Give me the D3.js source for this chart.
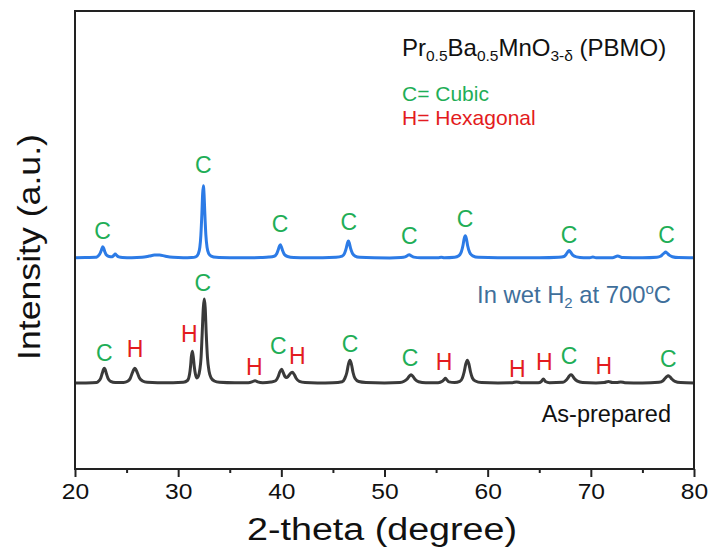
<!DOCTYPE html>
<html>
<head>
<meta charset="utf-8">
<script src="https://cdn.jsdelivr.net/npm/d3@7"></script>
<style>
  html, body { margin: 0; padding: 0; background: #fff; }
  svg text { font-family: "Liberation Sans", Arial, Helvetica, sans-serif; }
</style>
</head>
<body>
<svg id="chart" width="711" height="552"></svg>
<script>
// ---------- DATA ----------
const xTicks = [20, 30, 40, 50, 60, 70, 80];
const xMinorTicks = [25, 35, 45, 55, 65, 75];

// Pattern after treatment in wet H2 at 700 °C: [2theta, intensity (a.u.)]
const wetH2 = [
  [20, 5], [21, 8], [22, 10], [22.1, 12], [22.35, 35], [22.5, 65], [22.6, 95], [22.7, 115], [22.8, 95],
  [22.9, 62], [23.05, 32], [23.3, 18], [23.6, 15], [23.75, 28], [23.9, 42], [24.05, 28], [24.25, 14],
  [24.6, 8], [25.5, 6], [26.5, 10], [27.2, 22], [27.7, 32], [28.2, 32], [28.7, 22], [29.5, 10], [30.5, 6],
  [31.3, 8], [31.7, 15], [31.95, 45], [32.1, 110], [32.2, 230], [32.3, 450], [32.37, 640], [32.44, 725],
  [32.51, 640], [32.58, 460], [32.68, 240], [32.8, 110], [32.95, 50], [33.2, 22], [33.7, 10], [35, 6],
  [36.5, 5], [38, 8], [38.8, 12], [39.3, 20], [39.55, 45], [39.7, 85], [39.8, 118], [39.9, 135],
  [40.0, 115], [40.12, 78], [40.3, 38], [40.6, 18], [41.2, 8], [42.5, 6], [44, 6], [45.3, 10],
  [45.9, 22], [46.15, 55], [46.3, 105], [46.42, 155], [46.5, 172], [46.58, 155], [46.7, 105],
  [46.88, 52], [47.15, 22], [47.6, 10], [49, 5], [50.5, 4], [51.6, 8], [52.0, 14], [52.2, 26],
  [52.4, 36], [52.6, 24], [52.85, 12], [53.5, 5], [55.2, 6], [55.5, 10], [55.8, 5], [56.8, 10],
  [57.2, 25], [57.45, 65], [57.6, 125], [57.72, 195], [57.83, 225], [57.94, 195], [58.06, 125],
  [58.25, 60], [58.55, 25], [59.1, 10], [61, 6], [63, 6], [65, 5], [66.9, 10], [67.4, 18], [67.6, 38],
  [67.75, 62], [67.9, 77], [68.05, 60], [68.25, 32], [68.6, 14], [69.3, 6], [69.9, 6], [70.2, 12],
  [70.5, 6], [72.1, 6], [72.6, 22], [73.1, 7], [75, 5], [76.4, 10], [76.75, 20], [76.95, 38],
  [77.1, 52], [77.25, 62], [77.4, 52], [77.6, 32], [77.9, 16], [78.5, 7], [80, 5]
];

// As-prepared pattern: [2theta, intensity (a.u.)]
const asPrepared = [
  [20, 5], [21, 6], [22.1, 10], [22.3, 25], [22.5, 55], [22.65, 105], [22.76, 140], [22.84, 152],
  [22.92, 140], [23.04, 100], [23.2, 52], [23.45, 22], [23.9, 10], [24.7, 10], [25.1, 22], [25.35, 50],
  [25.55, 105], [25.7, 140], [25.8, 152], [25.9, 140], [26.05, 105], [26.25, 55], [26.55, 25], [27.0, 12],
  [28, 8], [29.5, 8], [30.5, 12], [30.9, 30], [31.1, 90], [31.2, 170], [31.28, 270], [31.37, 322],
  [31.46, 270], [31.56, 170], [31.68, 90], [31.82, 55], [31.95, 70], [32.1, 140], [32.22, 260],
  [32.32, 480], [32.44, 760], [32.53, 845], [32.62, 760], [32.72, 500], [32.84, 260], [33.0, 120],
  [33.2, 55], [33.5, 25], [34, 12], [35.5, 7], [36.8, 8], [37.2, 18], [37.45, 28], [37.7, 16], [38.2, 8],
  [39.0, 15], [39.45, 28], [39.7, 70], [39.85, 115], [40.03, 142], [40.18, 110], [40.35, 70], [40.5, 60],
  [40.65, 70], [40.85, 98], [41.06, 112], [41.25, 90], [41.45, 50], [41.75, 22], [42.3, 10], [43.5, 6],
  [45, 8], [45.9, 18], [46.15, 50], [46.35, 110], [46.5, 190], [46.65, 232], [46.8, 190], [46.95, 110],
  [47.15, 50], [47.5, 20], [48.2, 10], [50, 6], [51.5, 10], [51.9, 22], [52.2, 45], [52.4, 72],
  [52.57, 87], [52.75, 72], [52.95, 42], [53.3, 18], [54, 8], [55.2, 8], [55.6, 22], [55.8, 42],
  [55.9, 52], [56.0, 42], [56.25, 16], [56.8, 10], [57.3, 22], [57.55, 55], [57.72, 115], [57.88, 195],
  [58.03, 232], [58.18, 195], [58.34, 115], [58.52, 55], [58.8, 25], [59.4, 10], [61, 6], [62.4, 8],
  [62.8, 16], [63.2, 8], [64.9, 8], [65.2, 20], [65.4, 45], [65.6, 20], [66, 8], [67.3, 12], [67.6, 32],
  [67.82, 62], [67.95, 80], [68.08, 87], [68.22, 78], [68.4, 50], [68.7, 24], [69.2, 10], [70.5, 6],
  [71.3, 10], [71.7, 20], [72.1, 10], [72.5, 10], [72.9, 16], [73.3, 8], [75, 5], [76.6, 12], [77.0, 28],
  [77.2, 52], [77.35, 68], [77.5, 77], [77.65, 68], [77.85, 45], [78.15, 22], [78.7, 10], [80, 6]
];

// vertical stacking offsets (a.u.)
const offsetAsPrepared = 855;
const offsetWetH2 = 2107;

// phase labels: [2theta, intensity (a.u., relative to the pattern baseline), phase]
const wetH2Labels = [
  [22.68, 196, "C"], [32.44, 853, "C"], [39.87, 260, "C"], [46.53, 283, "C"],
  [52.4, 143, "C"], [57.8, 310, "C"], [67.88, 150, "C"], [77.35, 150, "C"]
];
const asPreparedLabels = [
  [22.84, 228, "C"], [25.82, 268, "H"], [31.08, 412, "H"], [32.38, 925, "C"],
  [37.38, 85, "H"], [39.7, 295, "C"], [41.55, 192, "H"], [46.65, 318, "C"],
  [52.47, 175, "C"], [55.77, 135, "H"], [62.87, 62, "H"], [65.49, 135, "H"],
  [67.88, 195, "C"], [71.27, 95, "H"], [77.51, 168, "C"]
];

// ---------- LAYOUT ----------
const W = 711, H = 552;
const margin = { left: 75, right: 17, top: 11, bottom: 83 };
const plotW = W - margin.left - margin.right;
const plotH = H - margin.top - margin.bottom;

const colBlue = "#2c7be6";
const colBlack = "#3a3a3a";
const colGreen = "#1fae57";
const colRed = "#e31b20";
const colSteel = "#3f6f9b";

const svg = d3.select("#chart");
const g = svg.append("g").attr("transform", `translate(${margin.left},${margin.top})`);

const x = d3.scaleLinear().domain([20, 80]).range([0, plotW]);
const y = d3.scaleLinear().domain([0, 4580]).range([plotH, 0]);

g.append("clipPath").attr("id", "clip")
  .append("rect").attr("x", 0).attr("y", 0).attr("width", plotW).attr("height", plotH);

const line = (off) => d3.line()
  .x(d => x(d[0]))
  .y(d => y(d[1] + off))
  .curve(d3.curveMonotoneX);

g.append("path").datum(asPrepared)
  .attr("clip-path", "url(#clip)")
  .attr("fill", "none").attr("stroke", colBlack).attr("stroke-width", 3)
  .attr("stroke-linejoin", "round")
  .attr("d", line(offsetAsPrepared));

g.append("path").datum(wetH2)
  .attr("clip-path", "url(#clip)")
  .attr("fill", "none").attr("stroke", colBlue).attr("stroke-width", 3)
  .attr("stroke-linejoin", "round")
  .attr("d", line(offsetWetH2));

// phase labels
function drawLabels(labels, off) {
  g.selectAll(null).data(labels).enter().append("text")
    .attr("x", d => x(d[0]))
    .attr("y", d => y(d[1] + off))
    .attr("text-anchor", "middle")
    .attr("font-size", 23)
    .attr("fill", d => d[2] === "C" ? colGreen : colRed)
    .text(d => d[2]);
}
drawLabels(wetH2Labels, offsetWetH2);
drawLabels(asPreparedLabels, offsetAsPrepared);

// frame
g.append("rect").attr("x", 0).attr("y", 0).attr("width", plotW).attr("height", plotH)
  .attr("fill", "none").attr("stroke", "#222").attr("stroke-width", 2);

// x axis
const xAxis = d3.axisBottom(x).tickValues(xTicks).tickSize(8).tickPadding(6).tickFormat(d3.format("d"));
const ax = g.append("g").attr("transform", `translate(0,${plotH})`).call(xAxis);
ax.select(".domain").remove();
ax.selectAll(".tick line").attr("stroke", "#222").attr("stroke-width", 2);
ax.selectAll(".tick text").attr("font-size", 22).attr("fill", "#111")
  .attr("font-family", "'Liberation Sans', Arial, sans-serif")
  .attr("transform", "scale(1.12,1)")
  .attr("dy", "0.75em")
  .attr("x", 0);
const axm = g.append("g").attr("transform", `translate(0,${plotH})`)
  .call(d3.axisBottom(x).tickValues(xMinorTicks).tickSize(4).tickFormat(""));
axm.select(".domain").remove();
axm.selectAll(".tick line").attr("stroke", "#222").attr("stroke-width", 2);

// axis titles
svg.append("text")
  .attr("x", 382).attr("y", 540)
  .attr("text-anchor", "middle")
  .attr("font-size", 31).attr("fill", "#111")
  .attr("textLength", 270).attr("lengthAdjust", "spacingAndGlyphs")
  .text("2-theta (degree)");

svg.append("text")
  .attr("transform", "translate(40,247) rotate(-90)")
  .attr("text-anchor", "middle")
  .attr("font-size", 31).attr("fill", "#111")
  .attr("textLength", 226).attr("lengthAdjust", "spacingAndGlyphs")
  .text("Intensity (a.u.)");

// title / compound formula
const t1 = svg.append("text").attr("x", 402).attr("y", 56)
  .attr("font-size", 24).attr("fill", "#111");
t1.append("tspan").text("Pr");
t1.append("tspan").attr("font-size", 15.5).attr("dy", 5).text("0.5");
t1.append("tspan").attr("dy", -5).text("Ba");
t1.append("tspan").attr("font-size", 15.5).attr("dy", 5).text("0.5");
t1.append("tspan").attr("dy", -5).text("MnO");
t1.append("tspan").attr("font-size", 15.5).attr("dy", 5).text("3-δ");
t1.append("tspan").attr("dy", -5).text(" (PBMO)");

svg.append("text").attr("x", 402).attr("y", 101)
  .attr("font-size", 21).attr("fill", colGreen).text("C= Cubic");
svg.append("text").attr("x", 402).attr("y", 125)
  .attr("font-size", 21).attr("fill", colRed).text("H= Hexagonal");

const t2 = svg.append("text").attr("x", 671).attr("y", 303)
  .attr("text-anchor", "end")
  .attr("font-size", 23.8).attr("fill", colSteel);
t2.append("tspan").text("In wet H");
t2.append("tspan").attr("font-size", 15).attr("dy", 5).text("2");
t2.append("tspan").attr("dy", -5).text(" at 700");
t2.append("tspan").attr("font-size", 15).attr("dy", -9).text("o");
t2.append("tspan").attr("dy", 9).text("C");

svg.append("text").attr("x", 671).attr("y", 422)
  .attr("text-anchor", "end")
  .attr("font-size", 23.5).attr("fill", "#111").text("As-prepared");
</script>
</body>
</html>
